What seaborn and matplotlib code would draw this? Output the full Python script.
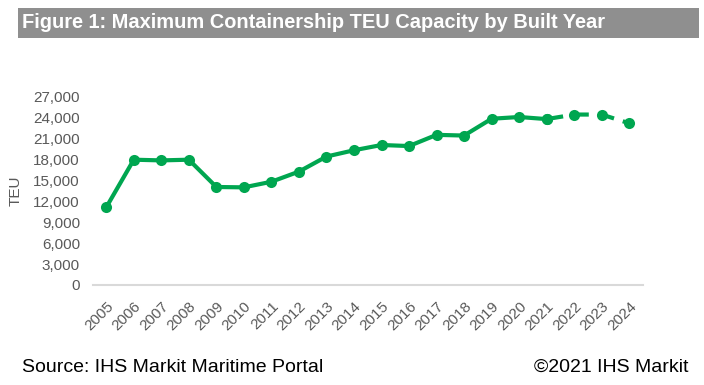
"""Maximum containership TEU capacity by built year"""

import matplotlib
matplotlib.use('Agg')
import matplotlib.pyplot as plt
import matplotlib.ticker as mticker
from matplotlib.patches import Rectangle
import seaborn as sns
import pandas as pd

# data
years = [2005, 2006, 2007, 2008, 2009, 2010, 2011, 2012, 2013, 2014,
         2015, 2016, 2017, 2018, 2019, 2020, 2021, 2022, 2023, 2024]
teu = [11100, 17900, 17800, 17900, 14000, 13950, 14750, 16200, 18350, 19250,
       20000, 19850, 21450, 21350, 23750, 24000, 23700, 24350, 24350, 23100]
last_actual = 2021

y_ticks = list(range(0, 27001, 3000))

GREEN = '#00a650'
GREY_TXT = '#595959'

sns.set_theme(style='white')
plt.rcParams['font.family'] = ['Liberation Sans', 'DejaVu Sans']

df = pd.DataFrame({'year': years, 'teu': teu})
actual = df[df['year'] <= last_actual]
forecast = df[df['year'] >= last_actual]

fig = plt.figure(figsize=(7.04, 3.85), dpi=100)
ax = fig.add_axes([92.5 / 704, (385 - 285) / 385, (643 - 92.5) / 704, (285 - 96) / 385])

sns.lineplot(data=actual, x='year', y='teu', ax=ax, color=GREEN, linewidth=3,
             marker='o', markersize=8, markeredgewidth=0)
sns.lineplot(data=forecast, x='year', y='teu', ax=ax, color=GREEN, linewidth=3,
             marker='o', markersize=8, markeredgewidth=0)
ax.lines[-1].set_linestyle((0, (4, 2.2)))

ax.set_xlim(years[0] - 0.5, years[-1] + 0.5)
ax.set_ylim(0, 27000)
ax.set_xticks(years)
ax.set_xticklabels([str(y) for y in years], rotation=45, ha='right',
                   rotation_mode='anchor', fontsize=11, color=GREY_TXT)
ax.set_yticks(y_ticks)
ax.yaxis.set_major_formatter(mticker.FuncFormatter(lambda v, p: f'{int(v):,}'))
ax.tick_params(axis='y', labelsize=11, labelcolor=GREY_TXT, length=0, pad=9)
ax.tick_params(axis='x', length=0, pad=10)
ax.set_xlabel('')
ax.set_ylabel('TEU', fontsize=11, color=GREY_TXT, labelpad=8)

for s in ['top', 'right', 'left']:
    ax.spines[s].set_visible(False)
ax.spines['bottom'].set_color('#d9d9d9')
ax.spines['bottom'].set_linewidth(1.5)
ax.spines['bottom'].set_zorder(0)
for ln in ax.lines:
    ln.set_clip_on(False)

# grey title band
fig.patches.append(Rectangle((18 / 704, (385 - 38) / 385), (699 - 18) / 704, 30 / 385,
                             transform=fig.transFigure, facecolor='#8f8f8f',
                             edgecolor='none', zorder=0))
fig.text(22 / 704, (385 - 23) / 385, 'Figure 1: Maximum Containership TEU Capacity by Built Year',
         fontweight='bold', fontsize=14.4, color='white', va='center', ha='left')

fig.text(22 / 704, (385 - 367) / 385, 'Source: IHS Markit Maritime Portal',
         fontsize=14, color='black', va='center', ha='left')
fig.text(688 / 704, (385 - 367) / 385, '\u00a92021 IHS Markit',
         fontsize=14, color='black', va='center', ha='right')

fig.savefig('out.png', dpi=100)
